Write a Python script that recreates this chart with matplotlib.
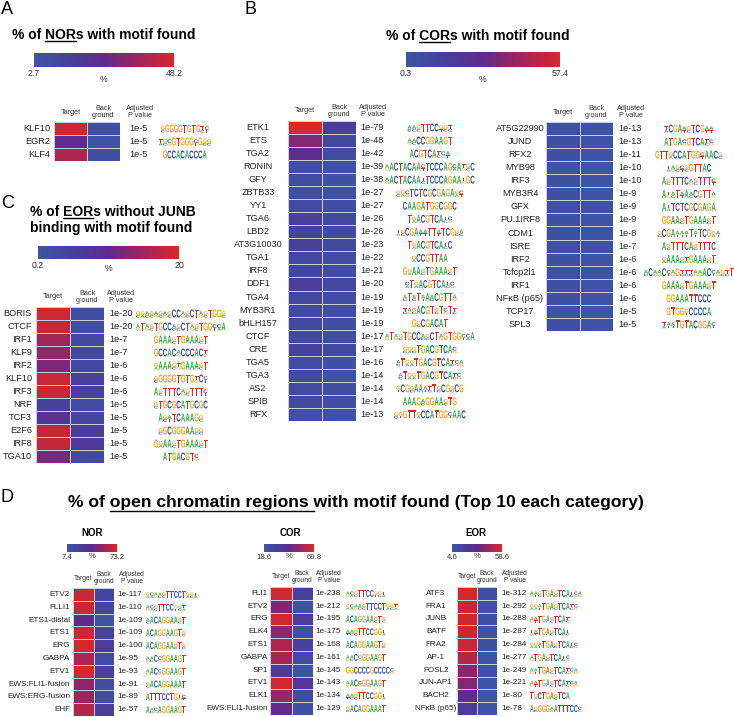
import numpy as np
import matplotlib
matplotlib.use('Agg')
import matplotlib.pyplot as plt
from matplotlib.colors import LinearSegmentedColormap, Normalize
from matplotlib.cm import ScalarMappable
from matplotlib.textpath import TextPath
from matplotlib.font_manager import FontProperties
from matplotlib.patches import PathPatch
from matplotlib.lines import Line2D
from matplotlib.transforms import Affine2D

plt.rcParams['font.family'] = ['Liberation Sans', 'DejaVu Sans']

#--------------------------------------------
# Data (percent of regions with motif found)
#--------------------------------------------

# A: NORs
nor_names = ['KLF10', 'EGR2', 'KLF4']
nor_target = [46.5, 25.0, 39.0]
nor_backgr = [6.0, 4.5, 5.5]
nor_pvals = ['1e-5', '1e-5', '1e-5']
nor_motifs = ['[GC]GGGGTGTG[TC][CT]', '[TA][GC][CG]GTGGG[CT]G[GC][GC]', 'GCCACACCCA']

# B: CORs (left block)
cor1_names = ['ETK1', 'ETS', 'TGA2', 'RONIN', 'GFY', 'ZBTB33', 'YY1', 'TGA6', 'LBD2',
              'AT3G10030', 'TGA1', 'IRF8', 'DDF1', 'TGA4', 'MYB3R1', 'bHLH157', 'CTCF',
              'CRE', 'TGA5', 'TGA3', 'AS2', 'SPIB', 'RFX']
cor1_target = [57.4, 36.0, 28.0, 5.0, 5.0, 6.0, 7.0, 16.0, 12.0, 15.0, 10.0, 9.0, 17.0,
               9.0, 7.0, 8.0, 7.5, 14.0, 6.0, 6.5, 7.0, 8.0, 4.0]
cor1_backgr = [16.0, 8.0, 6.5, 3.0, 3.0, 4.0, 5.0, 8.0, 7.0, 8.0, 6.0, 5.0, 9.0,
               6.0, 5.0, 6.0, 5.0, 8.0, 4.0, 4.0, 5.0, 6.0, 2.5]
cor1_pvals = ['1e-79', '1e-48', '1e-42', '1e-39', '1e-38', '1e-27', '1e-27', '1e-26', '1e-26',
              '1e-23', '1e-22', '1e-21', '1e-20', '1e-19', '1e-19', '1e-19', '1e-17', '1e-17',
              '1e-16', '1e-14', '1e-14', '1e-14', '1e-13']
cor1_motifs = ['[AC][AC][GC]TTCC[GT][GC][TC]', '[AG][AC]CCGGAAGT', 'ACGTCA[TC][CG][AT]',
               '[AG]ACTACAA[CT]TCCCAG[CA]A[TG][GC]C', '[AG]ACTACAA[TC]TCCCAGAA[TG]GC',
               '[GC][GA][CG]TCTCGCGAGA[GA][CT]', 'CAAGATGGCGGC', 'T[GA]ACGTCA[TC][CG]',
               '[TA][GC]CGA[AT][AT]TT[AT]TCG[GC][AC]', 'T[GA]ACGTCA[TC]C', '[GA]CCGTTAA',
               'G[GA]AA[GC]TGAAA[GC]T', '[CA]T[GA]ACGTCA[TC][CG]', '[AC]T[AC]T[AT]A[AC]CGTT[AG]',
               '[TC][AG][GC]ACGT[GC]T[CG]T[TC]', 'G[GC]CGACAT',
               '[AG]T[AG][GC]TGCC[AC][GC]CT[AG]GTGG[CT][CA]A', '[GC][GA][GC]TGACGTCA[CG]',
               '[AC]T[GA][GA]TGACGTCA[TC][CG][AG]', '[AC]T[GA][GA]TGACGTCA[TC][CG]',
               '[GT]CG[GC]AA[AT][TC]T[GC]CG[GC]CG', 'AAAG[AC]GGAA[GC]TG', '[GC][GT]GTT[GA]CCATGG[CT]AAC']

# B: CORs (right block)
cor2_names = ['AT5G22990', 'JUND', 'RFX2', 'MYB98', 'IRF3', 'MYB3R4', 'GFX', 'PU.1IRF8',
              'CDM1', 'ISRE', 'IRF2', 'Tcfcp2l1', 'IRF1', 'NFκB (p65)', 'TCP17', 'SPL3']
cor2_target = [2.5, 2.5, 2.5, 2.5, 2.5, 2.5, 2.5, 2.5, 2.5, 2.5, 2.5, 2.5, 2.5, 2.5, 2.5, 2.5]
cor2_backgr = [1.5, 1.5, 1.5, 1.5, 1.5, 1.5, 1.5, 1.5, 1.5, 1.5, 1.5, 1.5, 1.5, 1.5, 1.5, 1.5]
cor2_pvals = ['1e-13', '1e-13', '1e-11', '1e-10', '1e-10', '1e-9', '1e-9', '1e-9',
              '1e-8', '1e-7', '1e-6', '1e-6', '1e-6', '1e-6', '1e-5', '1e-5']
cor2_motifs = ['[TA]CGA[AT][GC]TCG[AT][AT]', 'ATGA[CG]GTCA[TC][CG]', 'GTT[GA]CCATGG[CT]AAC[GC]',
               '[TA][AG][GC][CT][GC]GTTAC', 'A[GC]TTTC[AG][GC]TTT[CT]', 'A[TG][AC]T[AT]A[AC]CGTT[AG]',
               'A[TA]TCTCGCGAGA', 'GGAA[GC]TGAAA[GC]T', '[GC]CGA[AT][AT][AT]T[AT]TCG[GA][AT]',
               'A[GC]TTTCA[GC]TTTC', '[GA]AAA[GC][TG]GAAA[GC]T',
               '[AC]C[AG][AG]C[CT][AG]G[TC][TC][TC][AG][AG]AC[CT][AG][GC][TC]T',
               'GAAA[GC]TGAAA[GC]T', 'GGAAATTCCC', 'GTGG[GT]CCCCA', '[TA][AT][AT]TGTACGGA[CT]']

# C: EORs without JUNB binding
eor_names = ['BORIS', 'CTCF', 'IRF1', 'KLF9', 'IRF2', 'KLF10', 'IRF3', 'NRF', 'TCF3',
             'E2F6', 'IRF8', 'TGA10']
eor_target = [19.2, 18.5, 15.0, 14.0, 12.0, 18.5, 18.5, 5.0, 9.0, 18.0, 18.0, 12.0]
eor_backgr = [2.0, 2.0, 3.0, 3.0, 3.0, 5.0, 5.0, 2.5, 4.0, 6.0, 7.0, 3.0]
eor_pvals = ['1e-20', '1e-20', '1e-7', '1e-7', '1e-6', '1e-6', '1e-6', '1e-5', '1e-5',
             '1e-5', '1e-5', '1e-5']
eor_motifs = ['[GC][GA][AC][GC][AG][GC][AG][GC]CC[AG][GC]CT[AG][GC]TGG[GC]',
              '[AG]T[AG][GC]TGCC[AC][GC]CT[AG][GC]TGG[CT][CA]A', 'GAAA[GC]TGAAA[GC]T',
              'GCCAC[AG]CCCAC[TG]', '[GA]AAA[GC][TG]GAAA[GC]T', '[GC]GGGGTGTG[TG]C[CT]',
              'A[GC]TTTC[AG][GC]TTT[CT]', '[GC]TGCGCATGCGC', 'A[GC][AT]TCAAAG[GC]',
              '[GC]GCGGGAA[GC][GC]', 'G[GA]AA[GC]TGAAA[GC]T', 'ATGACGT[CG]']

# D: top 10 per category
dnor_names = ['ETV2', 'FLLI1', 'ETS1-distal', 'ETS1', 'ERG', 'GABPA', 'ETV1',
              'EWS:FLI1-fusion', 'EWS:ERG-fusion', 'EHF']
dnor_target = [68.0, 69.0, 40.0, 70.0, 72.0, 60.0, 73.0, 52.0, 55.0, 62.0]
dnor_backgr = [20.0, 18.0, 10.0, 22.0, 28.0, 15.0, 25.0, 12.0, 14.0, 25.0]
dnor_pvals = ['1e-117', '1e-110', '1e-109', '1e-109', '1e-100', '1e-95', '1e-93', '1e-91',
              '1e-89', '1e-57']
dnor_motifs = ['[GA][CA][AG][AC][GC]TTCCT[GA][GC][TA]', '[AG][CA][GC]TTCC[GT][GC][TA]',
               '[AC]ACAGGAA[GC]T', 'ACAGGAAGT[GC]', 'ACAGGAA[GC]T[GC]', '[AG][AC]C[CG]GGAAGT',
               '[AG]AC[CG]GGAAGT', '[GC]ACAGGAAAT', 'ATTTCCTG[TG][CT]', 'A[AC][CG]AGGAAGT']

dcor_names = ['FLI1', 'ETV2', 'ERG', 'ELK4', 'ETS1', 'GABPA', 'SP1', 'ETV1', 'ELK1',
              'EWS:FLI1-fusion']
dcor_target = [68.0, 50.0, 68.0, 52.0, 60.0, 58.0, 34.0, 68.0, 55.0, 45.0]
dcor_backgr = [30.0, 22.0, 35.0, 22.0, 30.0, 25.0, 20.0, 38.0, 24.0, 22.0]
dcor_pvals = ['1e-238', '1e-212', '1e-195', '1e-175', '1e-168', '1e-161', '1e-145', '1e-143',
              '1e-134', '1e-129']
dcor_motifs = ['[AG][CA][GC]TTCC[GT][GC][TA]', '[GA][CA][AG][AC][GC]TTCCT[GA][GC][TA]',
               'ACAGGAA[GC]T[GC]', '[AT][AC][GC]TTCCGG[TA]', 'ACAGGAAGT[GC]', '[AG][AC]C[CG]GGAAGT',
               'GGCCCCGCCCC[CG]', '[AG]AC[CG]GGAAGT', '[AT][AC][GC]TTCCGG[TA]', '[GC]ACAGGAAAT']

deor_names = ['ATF3', 'FRA1', 'JUNB', 'BATF', 'FRA2', 'AP-1', 'FOSL2', 'JUN-AP1', 'BACH2',
              'NFκB (p65)']
deor_target = [58.0, 56.0, 56.0, 56.0, 55.0, 50.0, 40.0, 38.0, 30.0, 22.0]
deor_backgr = [7.0, 6.0, 7.0, 7.0, 7.0, 6.0, 6.0, 6.0, 5.0, 6.0]
deor_pvals = ['1e-312', '1e-292', '1e-288', '1e-287', '1e-284', '1e-277', '1e-249', '1e-221',
              '1e-80', '1e-78']
deor_motifs = ['[AG][AT][GC]TGA[GC]TCA[TC][CG][AG]', '[GA][GA][AT]TGA[GC]TCA[TC][CG]',
               '[AG][AT]TGA[GC]TCA[TC]', '[TG][AT]TGA[GC]TCA[TC]', '[GA][GA][AT]TGA[GC]TCA[TC][CG]',
               '[AG]TGA[GC]TCA[TC][CG]', '[AG][AT]TGA[GC]TCA[TC][CG][AG]',
               '[AG][AT]TGA[GC]TCA[TC][CG][AG]', 'T[GA]CTGA[GC]TCA', 'A[GC]GGG[AG]ATTTCC[CG]']

#--------------------------------------------
# Figure set up (everything laid out in pixels)
#--------------------------------------------

W, H = 734, 717
fig = plt.figure(figsize=(W/100, H/100), dpi=100)
pix = Affine2D().scale(1/W, -1/H).translate(0, 1) + fig.transFigure
cmap = LinearSegmentedColormap.from_list('bpr', ['#3d55a6', '#47409b', '#5f2b8d', '#a12559', '#d7282a'])
letter_colors = {'A': '#3aaa48', 'C': '#2f4ea1', 'G': '#f3a625', 'T': '#e1261e'}
logo_font = FontProperties(family='Liberation Sans', weight='bold')
glyphs = {L: TextPath((0, 0), L, size=10, prop=logo_font) for L in 'ACGT'}


def add_px_axes(x, y, w, h):
    return fig.add_axes([x/W, 1-(y+h)/H, w/W, h/H])


def ftext(x, y, s, **kw):
    return fig.text(x/W, 1-y/H, s, **kw)


def text_width(s, **kw):
    t = fig.text(0, 0, s, **kw)
    w = t.get_window_extent(renderer=fig.canvas.get_renderer()).width
    t.remove()
    return w


def title(x, y, pre, under, post, size):
    '''Bold title with one underlined chunk.'''
    kw = dict(fontsize=size, fontweight='bold')
    ftext(x, y, pre + under + post, ha='left', va='center', **kw)
    w_end = text_width(pre + under.rstrip(), **kw)
    w_u = text_width(under.rstrip(), **kw)
    x0 = x + w_end - w_u
    x1 = x + w_end + (text_width('a a', **kw) - text_width('aa', **kw) if under.endswith(' ') else 0)
    yl = y + size*0.62
    fig.add_artist(Line2D([x0, x1], [yl, yl], color='black', lw=1.0, transform=pix))


def parse_motif(s):
    out, i = [], 0
    while i < len(s):
        if s[i] == '[':
            j = s.index(']', i)
            out.append(s[i+1:j])
            i = j + 1
        else:
            out.append(s[i])
            i += 1
    return out


def draw_letter(L, x, ybot, w, h):
    p = glyphs[L]
    e = p.get_extents()
    tr = Affine2D().translate(-e.x0, -e.y0).scale(w/e.width, -h/e.height).translate(x, ybot) + pix
    fig.add_artist(PathPatch(p, facecolor=letter_colors[L], edgecolor='none', transform=tr))


def draw_motif(x, yc, motif, pitch, lh, align='center'):
    cols = parse_motif(motif)
    x0 = x - len(cols)*pitch/2 if align == 'center' else x
    ybot = yc + lh/2
    for j, col in enumerate(cols):
        xl = x0 + j*pitch
        if len(col) == 1:
            draw_letter(col, xl, ybot, pitch*0.92, lh)
        else:
            draw_letter(col[1], xl, ybot, pitch*0.92, lh*0.3)
            draw_letter(col[0], xl, ybot - lh*0.32, pitch*0.92, lh*0.45)


def colorbar(x, y, w, h, vmin, vmax, fs, pct_dy):
    cax = add_px_axes(x, y, w, h)
    sm = ScalarMappable(norm=Normalize(vmin, vmax), cmap=cmap)
    cb = fig.colorbar(sm, cax=cax, orientation='horizontal')
    cb.set_ticks([vmin, vmax])
    cb.set_ticklabels(['{:g}'.format(vmin), '{:g}'.format(vmax)])
    cax.tick_params(length=0, labelsize=fs, pad=1.5, colors='#333333')
    cb.outline.set_visible(False)
    ftext(x + w/2, y + h + pct_dy, '%', ha='center', va='center', fontsize=fs, color='#333333')


def heatmap(x, top, colw, rowh, names, target, backgr, pvals, motifs, vmin, vmax,
            label_x, label_ha, p_x, adj_x, motif_x, motif_align, fs, hfs, pitch, lh):
    n = len(names)
    ax = add_px_axes(x, top, 2*colw, n*rowh)
    data = np.column_stack([target, backgr])
    ax.pcolormesh(data, cmap=cmap, vmin=vmin, vmax=vmax, edgecolors='#c9cce6', linewidth=0.5)
    ax.set_ylim(n, 0)
    ax.set_axis_off()
    hy = top - 10
    ftext(x + colw/2, hy, 'Target', ha='center', va='center', fontsize=hfs, color='#333333')
    ftext(x + 1.5*colw, hy, 'Back\nground', ha='center', va='center', fontsize=hfs,
          color='#333333', linespacing=1.05)
    ftext(adj_x, hy, 'Adjusted\nP value', ha='center', va='center', fontsize=hfs,
          color='#333333', linespacing=1.05)
    for i in range(n):
        yc = top + (i + 0.5)*rowh
        ftext(label_x, yc, names[i], ha=label_ha, va='center', fontsize=fs, color='#222222')
        ftext(p_x, yc, pvals[i], ha='left', va='center', fontsize=fs, color='#222222')
        draw_motif(motif_x, yc, motifs[i], pitch, lh, motif_align)


#--------------------------------------------
# Panel A
#--------------------------------------------
ftext(1, 10, 'A', fontsize=13, ha='left', va='center')
title(12, 35, '% of ', 'NOR', 's with motif found', 10)
colorbar(34, 53, 140, 14, 2.7, 48.2, 6.3, 12)
heatmap(54, 122, 33, 13, nor_names, nor_target, nor_backgr, nor_pvals, nor_motifs, 2.7, 48.2,
        50, 'right', 129, 140, 185, 'center', 6.6, 5.2, 4.4, 8)

#--------------------------------------------
# Panel B
#--------------------------------------------
ftext(244, 10, 'B', fontsize=13, ha='left', va='center')
title(386, 36, '% of ', 'COR', 's with motif found', 10)
colorbar(406, 52, 154, 15, 0.3, 57.4, 6.3, 13)
heatmap(288, 121, 34, 13.04, cor1_names, cor1_target, cor1_backgr, cor1_pvals, cor1_motifs,
        0.3, 57.4, 258, 'center', 360, 373, 430, 'center', 6.6, 5.2, 4.5, 8)
heatmap(546, 122, 33.5, 13.06, cor2_names, cor2_target, cor2_backgr, cor2_pvals, cor2_motifs,
        0.3, 57.4, 520, 'center', 618, 631, 689, 'center', 6.6, 5.2, 4.5, 8)

#--------------------------------------------
# Panel C
#--------------------------------------------
ftext(1, 204, 'C', fontsize=13, ha='left', va='center')
title(30, 212, '% of ', 'EOR', 's without JUNB', 10)
ftext(30, 228, 'binding with motif found', fontsize=10, fontweight='bold', ha='left', va='center')
colorbar(38, 246, 141, 13, 0.2, 20, 6.3, 10)
heatmap(36, 307, 34, 13, eor_names, eor_target, eor_backgr, eor_pvals, eor_motifs, 0.2, 20,
        32, 'right', 109, 121, 181, 'center', 6.6, 5.2, 4.5, 8)

#--------------------------------------------
# Panel D
#--------------------------------------------
ftext(1, 497, 'D', fontsize=13, ha='left', va='center')
title(68, 503, '% of ', 'open chromatin regions ', 'with motif found (Top 10 each category)', 12.6)

for lab, cx in [('NOR', 92), ('COR', 290), ('EOR', 476)]:
    ftext(cx, 533, lab, fontsize=7, fontweight='bold', ha='center', va='center')
colorbar(67, 544, 50, 8, 7.4, 73.2, 5.6, 5)
colorbar(264, 544, 50, 8, 18.6, 69.8, 5.6, 5)
colorbar(452, 544, 50, 8, 4.6, 58.6, 5.6, 5)

heatmap(73, 588, 20.5, 12.8, dnor_names, dnor_target, dnor_backgr, dnor_pvals, dnor_motifs,
        7.4, 73.2, 70, 'right', 117, 132, 146, 'left', 5.9, 4.8, 4.0, 7)
heatmap(270, 587, 21.5, 12.8, dcor_names, dcor_target, dcor_backgr, dcor_pvals, dcor_motifs,
        18.6, 69.8, 268, 'right', 315, 329, 346, 'left', 5.9, 4.8, 4.0, 7)
heatmap(457, 587, 20, 12.8, deor_names, deor_target, deor_backgr, deor_pvals, deor_motifs,
        4.6, 58.6, 436, 'center', 501, 515, 530, 'left', 5.9, 4.8, 4.0, 7)

fig.savefig('out.png', dpi=100)
